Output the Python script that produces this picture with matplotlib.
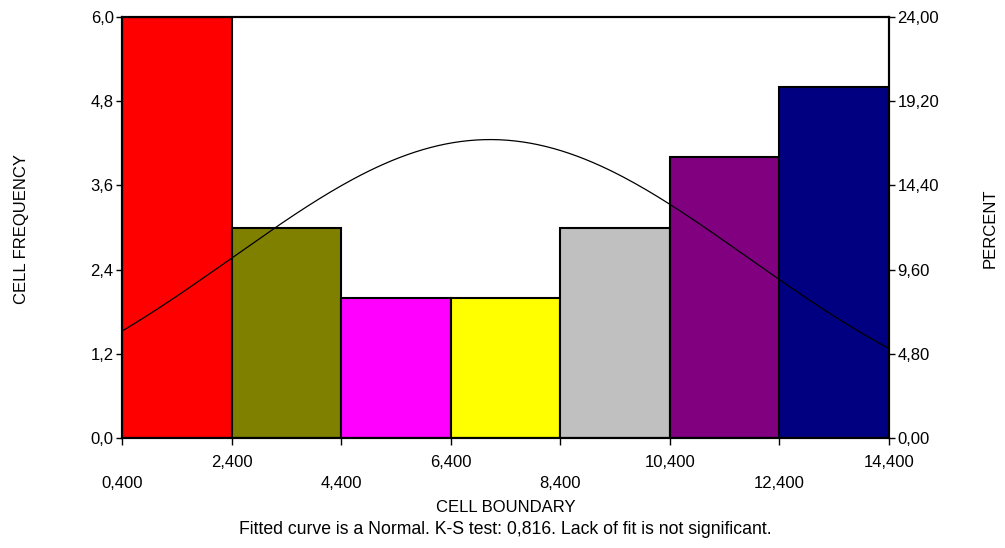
import numpy as np
import matplotlib.pyplot as plt

edges = [0.4, 2.4, 4.4, 6.4, 8.4, 10.4, 12.4, 14.4]
freq = [6, 3, 2, 2, 3, 4, 5]
colors = ['#ff0000', '#808000', '#ff00ff', '#ffff00', '#c0c0c0', '#800080', '#000080']
fit_mu = 7.12
fit_sigma = 4.69
left_ticks = [0.0, 1.2, 2.4, 3.6, 4.8, 6.0]
right_ticks = [0.0, 4.8, 9.6, 14.4, 19.2, 24.0]

plt.rcParams.update({
    'font.family': ['Liberation Sans', 'DejaVu Sans'],
    'font.size': 12,
})

fig = plt.figure(figsize=(10.05, 5.48), dpi=100)
ax = fig.add_axes([0.1214, 0.2007, 0.7632, 0.7683])

n = sum(freq)
width = edges[1] - edges[0]
ax.bar(edges[:-1], freq, width=width, align='edge', color=colors,
       edgecolor='black', linewidth=1.5, zorder=2)

# fitted normal curve in frequency units
xs = np.linspace(edges[0], edges[-1], 200)
ys = n * width / (fit_sigma * np.sqrt(2 * np.pi)) * np.exp(-0.5 * ((xs - fit_mu) / fit_sigma) ** 2)
ax.plot(xs, ys, color='black', linewidth=0.9, zorder=3)

ax.set_xlim(edges[0], edges[-1])
ax.set_ylim(0, 6)
ax.set_yticks(left_ticks)
ax.set_yticklabels([f'{v:.1f}'.replace('.', ',') for v in left_ticks])

# alternate tick labels on two rows
ax.set_xticks(edges[1::2])
ax.set_xticklabels([f'{v:.3f}'.replace('.', ',') for v in edges[1::2]])
ax.set_xticks(edges[0::2], minor=True)
ax.set_xticklabels([f'{v:.3f}'.replace('.', ',') for v in edges[0::2]], minor=True)
ax.tick_params(axis='x', which='major', length=5, width=1, pad=7)
ax.tick_params(axis='x', which='minor', length=5, width=1, pad=22)
ax.tick_params(axis='y', length=4, width=1, pad=2)

for s in ax.spines.values():
    s.set_linewidth(1.5)

ax2 = ax.twinx()
ax2.set_ylim(0, 24)
ax2.set_yticks(right_ticks)
ax2.set_yticklabels([f'{v:.2f}'.replace('.', ',') for v in right_ticks])
ax2.tick_params(axis='y', length=4, width=1, pad=2)
for s in ax2.spines.values():
    s.set_linewidth(1.5)

fig.text(0.021, 0.582, 'CELL FREQUENCY', rotation=90, ha='center', va='center')
fig.text(0.985, 0.584, 'PERCENT', rotation=90, ha='center', va='center')
fig.text(0.503, 0.073, 'CELL BOUNDARY', ha='center', va='center')
fig.text(0.503, 0.033, 'Fitted curve is a Normal. K-S test: 0,816. Lack of fit is not significant.',
         ha='center', va='center', fontsize=12.7)

fig.savefig('out.png', dpi=100)
